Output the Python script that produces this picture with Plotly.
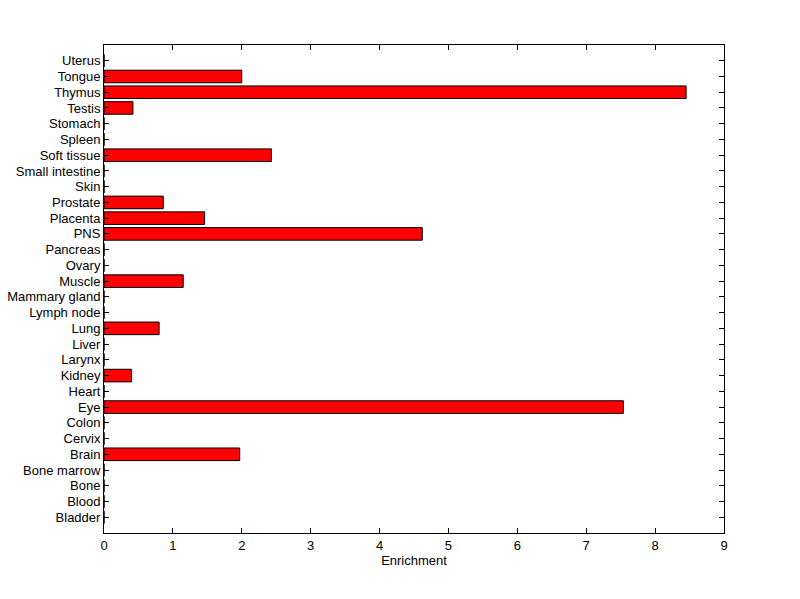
import plotly.graph_objects as go

tissues = ["Bladder", "Blood", "Bone", "Bone marrow", "Brain", "Cervix", "Colon", "Eye",
           "Heart", "Kidney", "Larynx", "Liver", "Lung", "Lymph node", "Mammary gland",
           "Muscle", "Ovary", "Pancreas", "PNS", "Placenta", "Prostate", "Skin",
           "Small intestine", "Soft tissue", "Spleen", "Stomach", "Testis", "Thymus",
           "Tongue", "Uterus"]
enrichment = [0, 0, 0, 0, 1.97, 0, 0, 7.54,
              0, 0.40, 0, 0, 0.80, 0, 0,
              1.15, 0, 0, 4.62, 1.46, 0.86, 0,
              0, 2.43, 0, 0, 0.42, 8.45,
              2.0, 0]
x_ticks = list(range(0, 10))

fig = go.Figure(go.Bar(
    x=enrichment, y=tissues, orientation="h",
    marker=dict(color="#ff0000", line=dict(color="black", width=1)),
))

font = dict(family="Liberation Sans, Arial, sans-serif", size=13, color="black")
fig.update_layout(
    width=800, height=599,
    margin=dict(l=96, r=84, t=37, b=74, autoexpand=False),
    paper_bgcolor="white", plot_bgcolor="white",
    bargap=0.2, showlegend=False, font=font,
    xaxis=dict(range=[0, 9], tickvals=x_ticks, ticks="inside", ticklen=5,
               showline=True, mirror="ticks", linecolor="black", linewidth=1,
               tickcolor="black", showgrid=False, zeroline=False, automargin=False,
               title=dict(text="Enrichment", font=dict(size=13), standoff=4)),
    yaxis=dict(type="category", categoryorder="array", categoryarray=tissues,
               tickmode="array", tickvals=tissues, ticktext=tissues,
               range=[-1, len(tissues)], ticks="inside", ticklen=5,
               showline=True, mirror="ticks", linecolor="black", linewidth=1,
               tickcolor="black", showgrid=False, zeroline=False, automargin=False),
)

fig.write_html("out.html")
